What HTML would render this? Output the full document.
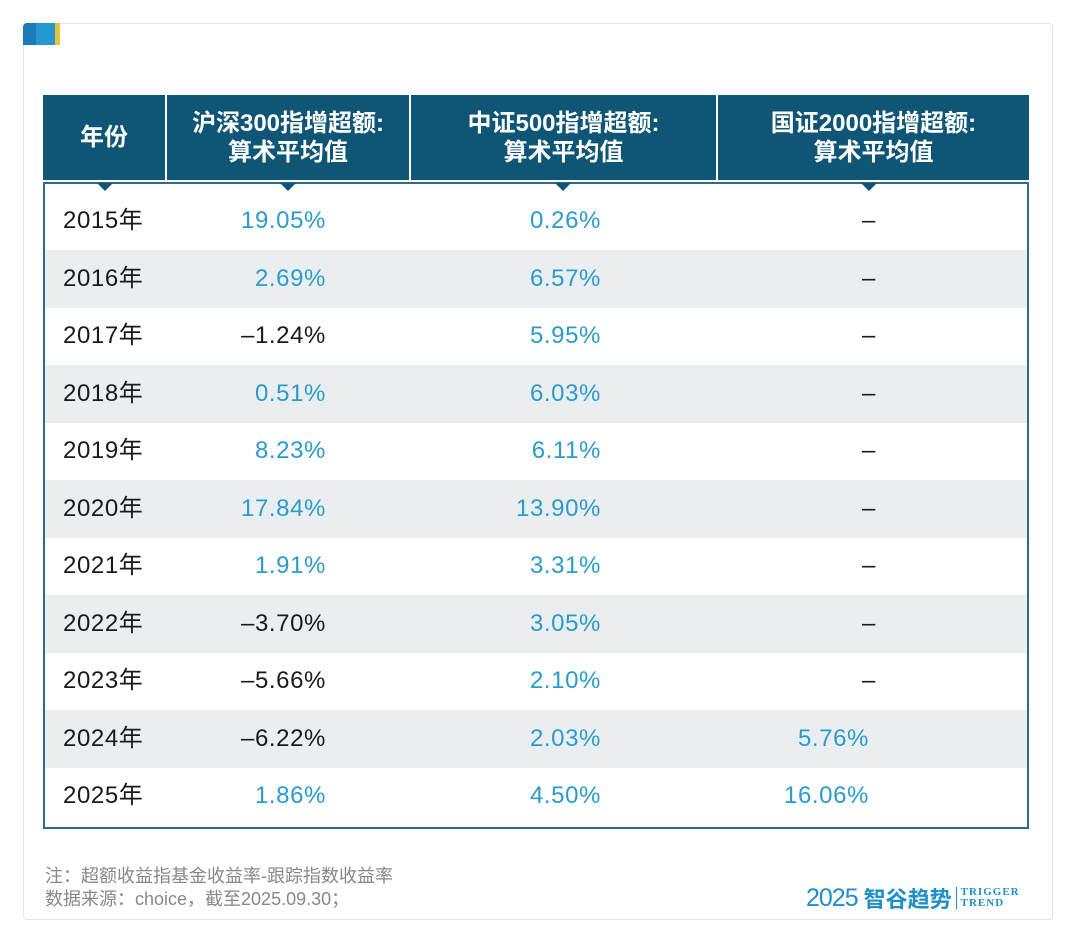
<!DOCTYPE html>
<html><head><meta charset="utf-8">
<style>
*{margin:0;padding:0;box-sizing:border-box}
body{width:1080px;height:952px;background:#fff;position:relative;overflow:hidden;font-family:"Liberation Sans","Noto Sans CJK SC",sans-serif}
.abs{position:absolute}
#card{left:23px;top:23px;width:1030px;height:897px;border:1px solid #e6e6e6;border-radius:4px}
.hd{top:95px;height:85px;background:#0f5676;color:#fff;font-size:24px;line-height:29px;text-align:center;display:flex;align-items:center;justify-content:center;font-weight:bold}
#box{left:43px;top:182px;width:986px;height:647px;border:2px solid #2d6b86}
.band{left:45px;height:57.5px;width:982px;background:#ebeef0}
.txt{font-size:24px;line-height:28px;height:28px;letter-spacing:0.6px;white-space:nowrap}
.tri{width:0;height:0;border-left:8px solid transparent;border-right:8px solid transparent;border-top:8px solid #0f5676;top:183px}
.foot{left:45px;color:#888;font-size:18px;white-space:nowrap}
</style></head><body>
<div id="card" class="abs"></div>
<div class="abs" style="left:23px;top:23px;width:37px;height:22px;border-radius:4px 0 0 0;overflow:hidden">
 <div class="abs" style="left:0;top:0;width:13px;height:22px;background:#1c7ab8"></div>
 <div class="abs" style="left:13px;top:0;width:19px;height:22px;background:#2597d2"></div>
 <div class="abs" style="left:32px;top:0;width:5px;height:22px;background:#e8c43a"></div>
</div>
<div class="abs hd" style="left:43px;width:122px">年份</div>
<div class="abs hd" style="left:167px;width:242px">沪深300指增超额:<br>算术平均值</div>
<div class="abs hd" style="left:411px;width:305px">中证500指增超额:<br>算术平均值</div>
<div class="abs hd" style="left:718px;width:311px">国证2000指增超额:<br>算术平均值</div>
<div id="box" class="abs"></div>
<div class="abs tri" style="left:97px"></div>
<div class="abs tri" style="left:280px"></div>
<div class="abs tri" style="left:555px"></div>
<div class="abs tri" style="left:861px"></div>
<div id="rows"></div>
<div class="abs foot" style="top:862px">注：超额收益指基金收益率-跟踪指数收益率</div>
<div class="abs foot" style="top:885px">数据来源：choice，截至2025.09.30；</div>
<div class="abs" style="left:806px;top:885px;height:26px;display:flex;align-items:center;color:#1e8fc8">
 <span style="font-size:25px;font-weight:300;letter-spacing:-1px">2025</span>
 <span style="font-size:22px;font-weight:bold;margin-left:6px">智谷趋势</span>
 <span style="width:1px;height:22px;background:#1e8fc8;margin:0 4px"></span>
 <span style="font-family:'Liberation Serif',serif;font-weight:bold;font-size:11px;line-height:11px;letter-spacing:1px">TRIGGER<br>TREND</span>
</div>
<script>
const years=["2015年","2016年","2017年","2018年","2019年","2020年","2021年","2022年","2023年","2024年","2025年"];
const hs300=[19.05,2.69,-1.24,0.51,8.23,17.84,1.91,-3.70,-5.66,-6.22,1.86];
const zz500=[0.26,6.57,5.95,6.03,6.11,13.90,3.31,3.05,2.10,2.03,4.50];
const gz2000=[null,null,null,null,null,null,null,null,null,5.76,16.06];
const root=document.getElementById('rows');
const rowH=57.5, top0=192.5;
function fmt(v){return v==null?'–':(v<0?'–'+Math.abs(v).toFixed(2):v.toFixed(2))+'%';}
function cell(text,right,y,color,name){
  const d=document.createElement('div');
  d.className='abs txt';
  
  
  d.style.top=y+'px';d.style.color=color;
  if(right===null){d.style.left='63px';}else{d.style.right=(1080-right)+'px';d.style.textAlign='right';}
  d.textContent=text;root.appendChild(d);
}
years.forEach((yr,i)=>{
  const t=top0+rowH*i;
  if(i%2===1){
    const b=document.createElement('div');
    b.className='abs band';
    
    
    b.style.top=t+'px';root.appendChild(b);
  }
  const cy=t+rowH/2-14;
  cell(yr,null,cy,'#1a1a1a','year-cell');
  cell(fmt(hs300[i]),326,cy,hs300[i]<0?'#1a1a1a':'#2a9ccb','hs300-cell');
  cell(fmt(zz500[i]),601,cy,zz500[i]<0?'#1a1a1a':'#2a9ccb','zz500-cell');
  cell(fmt(gz2000[i]),gz2000[i]==null?876:869,cy,gz2000[i]==null?'#1a1a1a':'#2a9ccb','gz2000-cell');
});
</script>
</body></html>
